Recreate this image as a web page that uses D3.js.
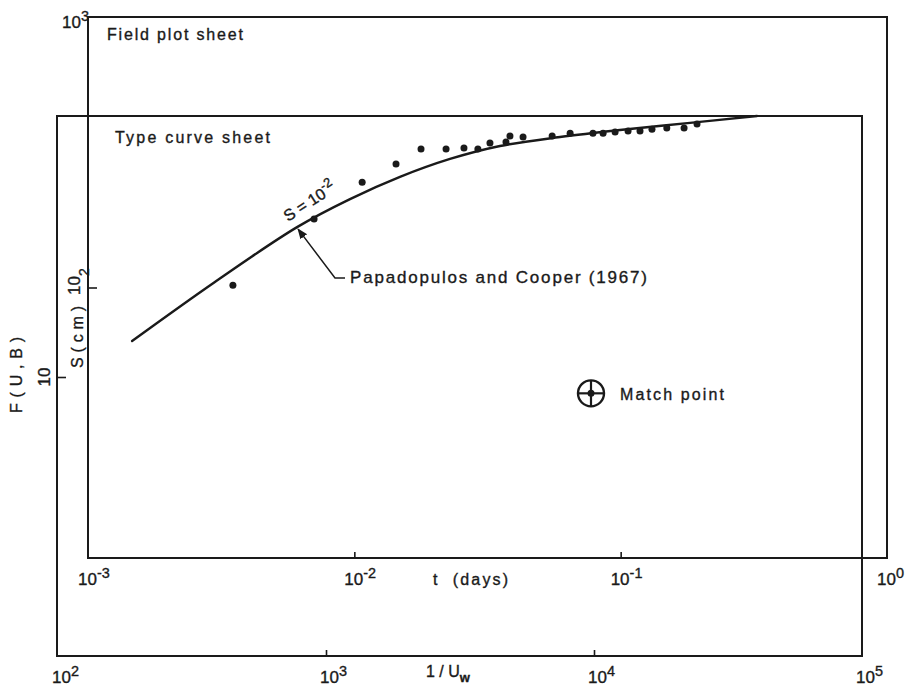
<!DOCTYPE html>
<html>
<head>
<meta charset="utf-8">
<style>
  body { margin: 0; background: #fff; }
  text { font-family: "Liberation Sans", "DejaVu Sans", sans-serif; fill: #1a1a1a; stroke: #1a1a1a; stroke-width: 0.35; }
</style>
</head>
<body>
<svg width="911" height="690"></svg>
<script src="https://d3js.org/d3.v7.min.js"></script>
<script>

// field data: time (days) vs drawdown S (cm)
var timeDays   = [0.00350, 0.00706, 0.0107, 0.01434, 0.0178, 0.0221, 0.0258, 0.0291, 0.0323, 0.0371,
                  0.0384, 0.0430, 0.0553, 0.0646, 0.0787, 0.0859, 0.0953, 0.1066, 0.1182, 0.1311,
                  0.149, 0.173, 0.1935];
var drawdownCm = [102, 179, 245, 286, 325, 325, 328, 325, 342, 345,
                  363, 360, 363, 372, 372, 372, 376, 379, 379, 385,
                  389, 389, 402];

// type curve (Papadopulos and Cooper, S = 1e-2): 1/Uw vs F(U,B)
var curveInvU = [189, 385, 780, 1229, 1888, 2902, 4459, 7466, 12500, 22810, 40550];
var curveF    = [13.6, 22.5, 35.9, 45.6, 55.1, 64.2, 71.7, 77.4, 82.2, 87.3, 92.6];

// match point on the type curve sheet
var matchInvU = 1e4, matchF = 8.7;

// decade labels
var tDecades = [1e-3, 1e-2, 1e-1, 1],   tExps = ["-3", "-2", "-1", "0"];
var uDecades = [1e2, 1e3, 1e4, 1e5],    uExps = ["2", "3", "4", "5"];

var svg = d3.select("svg"),
    ink = "#1a1a1a";

// the two overlaid sheets
var field = {left: 88, right: 887, top: 17, bottom: 558},
    type  = {left: 57, right: 862, top: 116, bottom: 656};

var xT = d3.scaleLog().domain([1e-3, 1]).range([field.left, field.right]);
var yS = d3.scaleLog().domain([10, 1000]).range([field.bottom, field.top]);
var xU = d3.scaleLog().domain([1e2, 1e5]).range([58, 862]);
var yF = d3.scaleLog().domain([1, 100]).range([647, 107]);

function frame(f) {
  svg.append("rect")
      .attr("x", f.left).attr("y", f.top)
      .attr("width", f.right - f.left).attr("height", f.bottom - f.top)
      .attr("fill", "none").attr("stroke", ink).attr("stroke-width", 2);
}
frame(field);
frame(type);

// small inward decade ticks
function ticks(axis, tx, ty) {
  var g = svg.append("g").attr("transform", "translate(" + tx + "," + ty + ")").call(axis);
  g.select(".domain").remove();
  g.selectAll("line").attr("stroke", ink).attr("stroke-width", 1.6);
  g.selectAll("text").remove();
}
ticks(d3.axisBottom(xT).tickValues([1e-2, 1e-1]).tickSize(-6), 0, field.bottom);
ticks(d3.axisBottom(xU).tickValues([1e3, 1e4]).tickSize(-6), 0, type.bottom);
ticks(d3.axisLeft(yS).tickValues([100]).tickSize(-9), field.left, 0);
ticks(d3.axisLeft(yF).tickValues([10]).tickSize(-9), type.left, 0);

function power(sel, exp, size) {
  sel.append("tspan").text("10");
  sel.append("tspan").attr("dy", -7).attr("font-size", size * 0.85).text(exp);
}

// t axis labels
tDecades.forEach(function(v, i) {
  svg.append("text").attr("x", xT(v) - 10).attr("y", 585).attr("font-size", 17)
      .call(power, tExps[i], 17);
});
svg.append("text").attr("x", 433).attr("y", 585).attr("font-size", 16)
    .attr("xml:space", "preserve")
    .attr("textLength", 75).attr("lengthAdjust", "spacing").text("t  (days)");

// 1/Uw axis labels
uDecades.forEach(function(v, i) {
  svg.append("text").attr("x", xU(v) - 6).attr("y", 683).attr("font-size", 17)
      .call(power, uExps[i], 17);
});
var lu = svg.append("text").attr("x", 426).attr("y", 677).attr("font-size", 16);
lu.append("tspan").text("1 / U");
lu.append("tspan").attr("dy", 5).attr("font-size", 13).attr("font-weight", "bold").text("w");

// S axis labels
svg.append("text").attr("x", 62).attr("y", 28).attr("font-size", 17).call(power, "3", 17);
var s2 = svg.append("text").attr("transform", "translate(80,295) rotate(-90)").attr("font-size", 17);
s2.append("tspan").text("10");
s2.append("tspan").attr("dy", 9).attr("font-size", 14).text("2");
svg.append("text").attr("transform", "translate(83,337) rotate(-90)")
    .attr("text-anchor", "middle").attr("font-size", 16)
    .attr("textLength", 62).attr("lengthAdjust", "spacing").text("S(cm)");

// F axis labels
svg.append("text").attr("transform", "translate(50,377) rotate(-90)")
    .attr("text-anchor", "middle").attr("font-size", 17).text("10");
svg.append("text").attr("transform", "translate(22,375) rotate(-90)")
    .attr("text-anchor", "middle").attr("font-size", 16)
    .attr("textLength", 76).attr("lengthAdjust", "spacing").text("F(U,B)");

// sheet titles
svg.append("text").attr("x", 107).attr("y", 40).attr("font-size", 16)
    .attr("textLength", 136).attr("lengthAdjust", "spacing").text("Field plot sheet");
svg.append("text").attr("x", 115).attr("y", 143).attr("font-size", 16)
    .attr("textLength", 155).attr("lengthAdjust", "spacing").text("Type curve sheet");

// type curve
var line = d3.line()
    .x(function(d) { return xU(d[0]); })
    .y(function(d) { return yF(d[1]); })
    .curve(d3.curveCatmullRom.alpha(0.5));

svg.append("path")
    .datum(d3.zip(curveInvU, curveF))
    .attr("fill", "none")
    .attr("stroke", ink)
    .attr("stroke-width", 2.4)
    .attr("stroke-linecap", "round")
    .attr("d", line);

// field points
svg.append("g").selectAll("circle")
    .data(d3.zip(timeDays, drawdownCm))
  .enter().append("circle")
    .attr("cx", function(d) { return xT(d[0]); })
    .attr("cy", function(d) { return yS(d[1]); })
    .attr("r", 3.5)
    .attr("fill", ink);

// S = 10^-2 label along the curve
var sl = svg.append("text").attr("transform", "translate(288,222) rotate(-33)").attr("font-size", 16);
sl.append("tspan").text("S = 10");
sl.append("tspan").attr("dy", -7).attr("font-size", 13).text("-2");

// leader to the curve
svg.append("defs").append("marker")
    .attr("id", "arrow").attr("viewBox", "0 0 10 10")
    .attr("refX", 9).attr("refY", 5)
    .attr("markerWidth", 7).attr("markerHeight", 7)
    .attr("orient", "auto")
  .append("path").attr("d", "M0,1L10,5L0,9Z").attr("fill", ink);

var tipX = xU(780), tipY = yF(35.9) + 2;
svg.append("path")
    .attr("d", "M345,278L335,278L" + (tipX + 1) + "," + tipY)
    .attr("fill", "none").attr("stroke", ink).attr("stroke-width", 1.5)
    .attr("marker-end", "url(#arrow)");

svg.append("text").attr("x", 350).attr("y", 283).attr("font-size", 17)
    .attr("textLength", 297).attr("lengthAdjust", "spacing").text("Papadopulos and Cooper (1967)");

// match point
var mx = xU(matchInvU) - 3, my = yF(matchF);
var mp = svg.append("g").attr("transform", "translate(" + mx + "," + my + ")");
mp.append("circle").attr("r", 13).attr("fill", "none").attr("stroke", ink).attr("stroke-width", 2.4);
mp.append("line").attr("x1", -13).attr("x2", 13).attr("stroke", ink).attr("stroke-width", 2.2);
mp.append("line").attr("y1", -13).attr("y2", 13).attr("stroke", ink).attr("stroke-width", 2.2);
mp.append("circle").attr("r", 3.5).attr("fill", ink);

svg.append("text").attr("x", 620).attr("y", 400).attr("font-size", 16)
    .attr("textLength", 104).attr("lengthAdjust", "spacing").text("Match point");

</script>
</body>
</html>
